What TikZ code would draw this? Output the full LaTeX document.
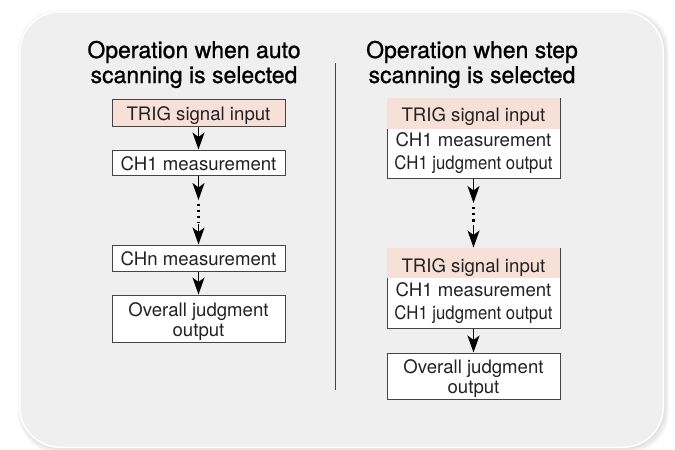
\documentclass[tikz,border=0pt]{standalone}
\usepackage{fontspec}
\setmainfont{TeX Gyre Heros}
\newfontfamily\titlefont[FakeBold=1.0]{TeX Gyre Heros}
\usetikzlibrary{arrows.meta}
\definecolor{bg}{HTML}{EFEFEF}
\definecolor{trig}{HTML}{F7E0D7}
\definecolor{ink}{HTML}{222222}
\definecolor{edge}{HTML}{444444}
\begin{document}
\begin{tikzpicture}[x=1pt,y=-1pt,
 box/.style={draw=edge, line width=1pt, fill=white, minimum width=173pt, inner sep=0pt},
 lbl/.style={anchor=base, inner sep=0pt, text=ink, font=\fontsize{18.6}{20}\selectfont},
 ttl/.style={anchor=base, inner sep=0pt, text=black, font=\titlefont\fontsize{23}{26}\selectfont},
 arr/.style={line width=1.5pt, draw=black, -{Stealth[length=17pt,width=12pt,inset=4.5pt]}},
 dotline/.style={line width=2.3pt, draw=black, dash pattern=on 2.3pt off 3.8pt}]
\useasboundingbox (0,0) rectangle (675,450);
% panel with soft shadow
\foreach \i in {1,...,5}
  \fill[black, opacity=0.025, rounded corners=40pt] (21-\i*0.6,13-\i*0.6) rectangle (664+\i,448+\i);
\fill[white, rounded corners=41pt] (19,11) rectangle (664,448);
\fill[bg, rounded corners=40pt] (20.5,12.5) rectangle (662.5,446.5);
% titles
\node[ttl] (t1a) at (194,58) {Operation when auto};
\node[ttl] (t1b) at (194,83) {scanning is selected};
\node[ttl] (t2a) at (472,58) {Operation when step};
\node[ttl] (t2b) at (472,83) {scanning is selected};
% divider
\coordinate (d1) at (335,63);
\coordinate (d2) at (335,390);
\draw[edge, line width=1pt] (d1) -- (d2);
% left column
\node[box, fill=trig, minimum height=27pt] (l1) at (198.5,112.5) {};
\node[lbl] (l1t) at ([yshift=-21.7pt]l1.north) {TRIG signal input};
\node[box, minimum height=25pt] (l2) at (198.5,162.5) {};
\node[lbl] (l2t) at ([yshift=-20.7pt]l2.north) {CH1 measurement};
\node[box, minimum height=26pt] (l3) at (198.5,258) {};
\node[lbl] (l3t) at ([yshift=-20.7pt]l3.north) {CHn measurement};
\node[box, minimum height=47pt] (l4) at (198.5,318.5) {};
\node[lbl] (l4a) at ([yshift=-21.7pt]l4.north) {Overall judgment};
\node[lbl] (l4b) at ([yshift=-41.7pt]l4.north) {output};
\draw[arr] (l1) -- (l2);
\coordinate (la) at (198.5,200);
\coordinate (ld1) at (198.5,203.5);
\coordinate (ld2) at (198.5,223);
\coordinate (lb) at (198.5,224);
\draw[arr] (l2) -- (la);
\draw[dotline] (ld1) -- (ld2);
\draw[arr] (lb) -- (l3);
\draw[arr] (l3) -- (l4);
% right column
\node[box, minimum height=80pt] (r1) at (473.5,138) {};
\fill[trig] ([shift={(0.5pt,-0.5pt)}]r1.north west) rectangle ([shift={(-0.5pt,-31pt)}]r1.north east);
\node[lbl] (r1a) at ([yshift=-24pt]r1.north) {TRIG signal input};
\node[lbl] (r1b) at ([yshift=-49pt]r1.north) {CH1 measurement};
\node[lbl] (r1c) at ([yshift=-72pt]r1.north) {\scalebox{0.9}[1]{CH1 judgment output}};
\node[box, minimum height=80pt] (r2) at (473.5,288) {};
\fill[trig] ([shift={(0.5pt,-0.5pt)}]r2.north west) rectangle ([shift={(-0.5pt,-30pt)}]r2.north east);
\node[lbl] (r2a) at ([yshift=-24.5pt]r2.north) {TRIG signal input};
\node[lbl] (r2b) at ([yshift=-49pt]r2.north) {CH1 measurement};
\node[lbl] (r2c) at ([yshift=-72pt]r2.north) {\scalebox{0.9}[1]{CH1 judgment output}};
\node[box, minimum height=46pt] (r3) at (473.5,376) {};
\node[lbl] (r3a) at ([yshift=-20.8pt]r3.north) {Overall judgment};
\node[lbl] (r3b) at ([yshift=-41.3pt]r3.north) {output};
\coordinate (ra) at (473.5,203);
\coordinate (rd1) at (473.5,207);
\coordinate (rd2) at (473.5,222);
\coordinate (rb) at (473.5,225);
\draw[arr] (r1) -- (ra);
\draw[dotline] (rd1) -- (rd2);
\draw[arr] (rb) -- (r2);
\draw[arr] (r2) -- (r3);
\end{tikzpicture}
\end{document}
